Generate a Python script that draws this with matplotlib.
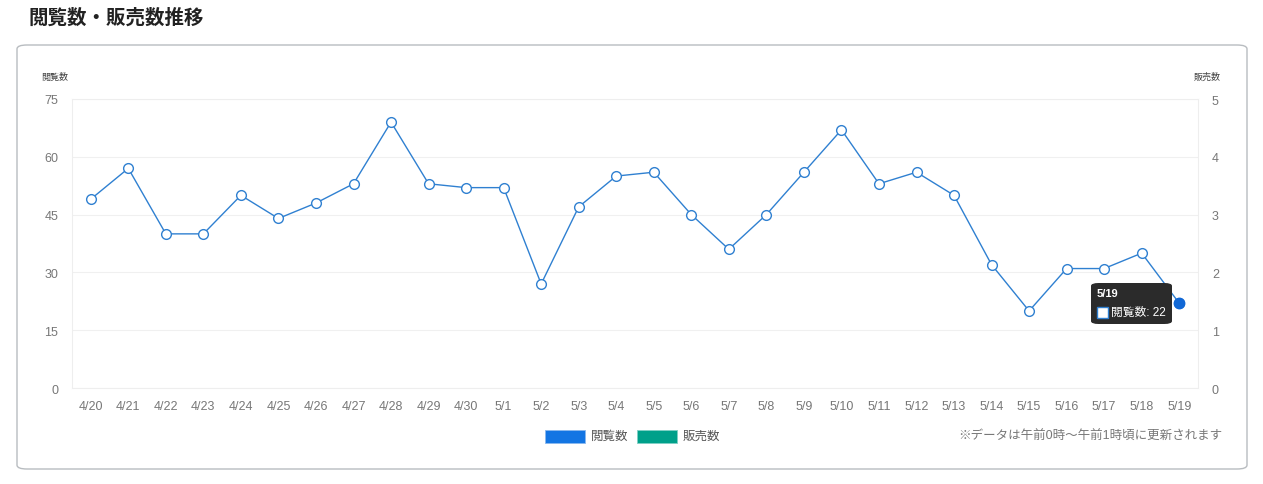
import matplotlib.pyplot as plt
from matplotlib.patches import FancyBboxPatch, Rectangle

plt.rcParams['font.family'] = ['Liberation Sans', 'Noto Sans CJK JP', 'DejaVu Sans']

# データ
dates = ['4/20', '4/21', '4/22', '4/23', '4/24', '4/25', '4/26', '4/27', '4/28', '4/29',
         '4/30', '5/1', '5/2', '5/3', '5/4', '5/5', '5/6', '5/7', '5/8', '5/9',
         '5/10', '5/11', '5/12', '5/13', '5/14', '5/15', '5/16', '5/17', '5/18', '5/19']
views = [49, 57, 40, 40, 50, 44, 48, 53, 69, 53,
         52, 52, 27, 47, 55, 56, 45, 36, 45, 56,
         67, 53, 56, 50, 32, 20, 31, 31, 35, 22]
sales = []  # 販売数は表示なし

view_ticks = [0, 15, 30, 45, 60, 75]
sales_ticks = [0, 1, 2, 3, 4, 5]

blue = '#2f80d1'
W, H = 1263, 485
fig = plt.figure(figsize=(W / 100, H / 100), dpi=100)

# 外枠 (軸の下に描く)
box = FancyBboxPatch((17 / W, 15 / H), (1230 / W), (424 / H),
                     boxstyle='round,pad=0,rounding_size=0.008',
                     transform=fig.transFigure, facecolor='white',
                     edgecolor='#b8bcc0', linewidth=1.0, zorder=-1)
fig.patches.append(box)

fig.text(28 / W, 1 - 18 / H, '閲覧数・販売数推移', fontsize=14, fontweight='bold',
         color='#222222', va='center', ha='left')

ax = fig.add_axes([72 / W, 1 - 389 / H, (1198 - 72) / W, (389 - 100) / H])
x = list(range(len(dates)))
ax.plot(x, views, color=blue, linewidth=1.0, marker='o', markersize=7,
        markerfacecolor='white', markeredgecolor=blue, markeredgewidth=1.0, zorder=3)
ax.plot(x[-1], views[-1], marker='o', markersize=7.5, color='#1168d6', zorder=4)

ax.set_xlim(-0.5, len(dates) - 0.5)
ax.set_ylim(0, 75)
ax.set_yticks(view_ticks)
ax.set_xticks(x)
ax.set_xticklabels(dates)
ax.grid(axis='y', color='#f0f0f0', linewidth=0.8)
ax.set_axisbelow(True)
for s in ax.spines.values():
    s.set_color('#eeeeee')
    s.set_linewidth(0.8)
ax.tick_params(axis='both', length=0, colors='#777777', labelsize=9)
ax.tick_params(axis='x', pad=9)
ax.tick_params(axis='y', pad=10)

ax2 = ax.twinx()
ax2.plot(x[:len(sales)], sales, color='#00a08a')
ax2.set_ylim(0, 5)
ax2.set_yticks(sales_ticks)
ax2.tick_params(axis='y', length=0, colors='#777777', labelsize=9, pad=10)
for s in ax2.spines.values():
    s.set_visible(False)

fig.text(55 / W, 1 - 77 / H, '閲覧数', fontsize=6.5, color='#444444', ha='center', va='center')
fig.text(1207 / W, 1 - 77 / H, '販売数', fontsize=6.5, color='#444444', ha='center', va='center')

# ツールチップ
tip = FancyBboxPatch((1091 / W, 1 - 325 / H), 81 / W, 41 / H,
                     boxstyle='round,pad=0,rounding_size=0.006',
                     transform=fig.transFigure, facecolor='#2b2b2b',
                     edgecolor='none', zorder=10)
fig.patches.append(tip)
fig.text(1097 / W, 1 - 294 / H, dates[-1], fontsize=8, fontweight='bold',
         color='white', va='center', zorder=11)
fig.patches.append(Rectangle((1097 / W, 1 - 319 / H), 11 / W, 11 / H,
                             transform=fig.transFigure, facecolor='white',
                             edgecolor=blue, linewidth=1.0, zorder=11))
fig.text(1111 / W, 1 - 313 / H, f'閲覧数: {views[-1]}', fontsize=8.5,
         color='white', va='center', zorder=11)

# 凡例
fig.patches.append(Rectangle((545 / W, 1 - 444 / H), 40 / W, 13 / H,
                             transform=fig.transFigure, facecolor='#1375e3',
                             edgecolor='#8ab8ee', linewidth=0.6))
fig.text(591 / W, 1 - 437 / H, '閲覧数', fontsize=9, color='#555555', va='center')
fig.patches.append(Rectangle((637 / W, 1 - 444 / H), 40 / W, 13 / H,
                             transform=fig.transFigure, facecolor='#00a08a',
                             edgecolor='#7fcfc4', linewidth=0.6))
fig.text(683 / W, 1 - 437 / H, '販売数', fontsize=9, color='#555555', va='center')

fig.text(1222 / W, 1 - 437 / H, '※データは午前0時〜午前1時頃に更新されます',
         fontsize=9, color='#777777', ha='right', va='center')

fig.savefig('out.png', dpi=100, facecolor='white')
